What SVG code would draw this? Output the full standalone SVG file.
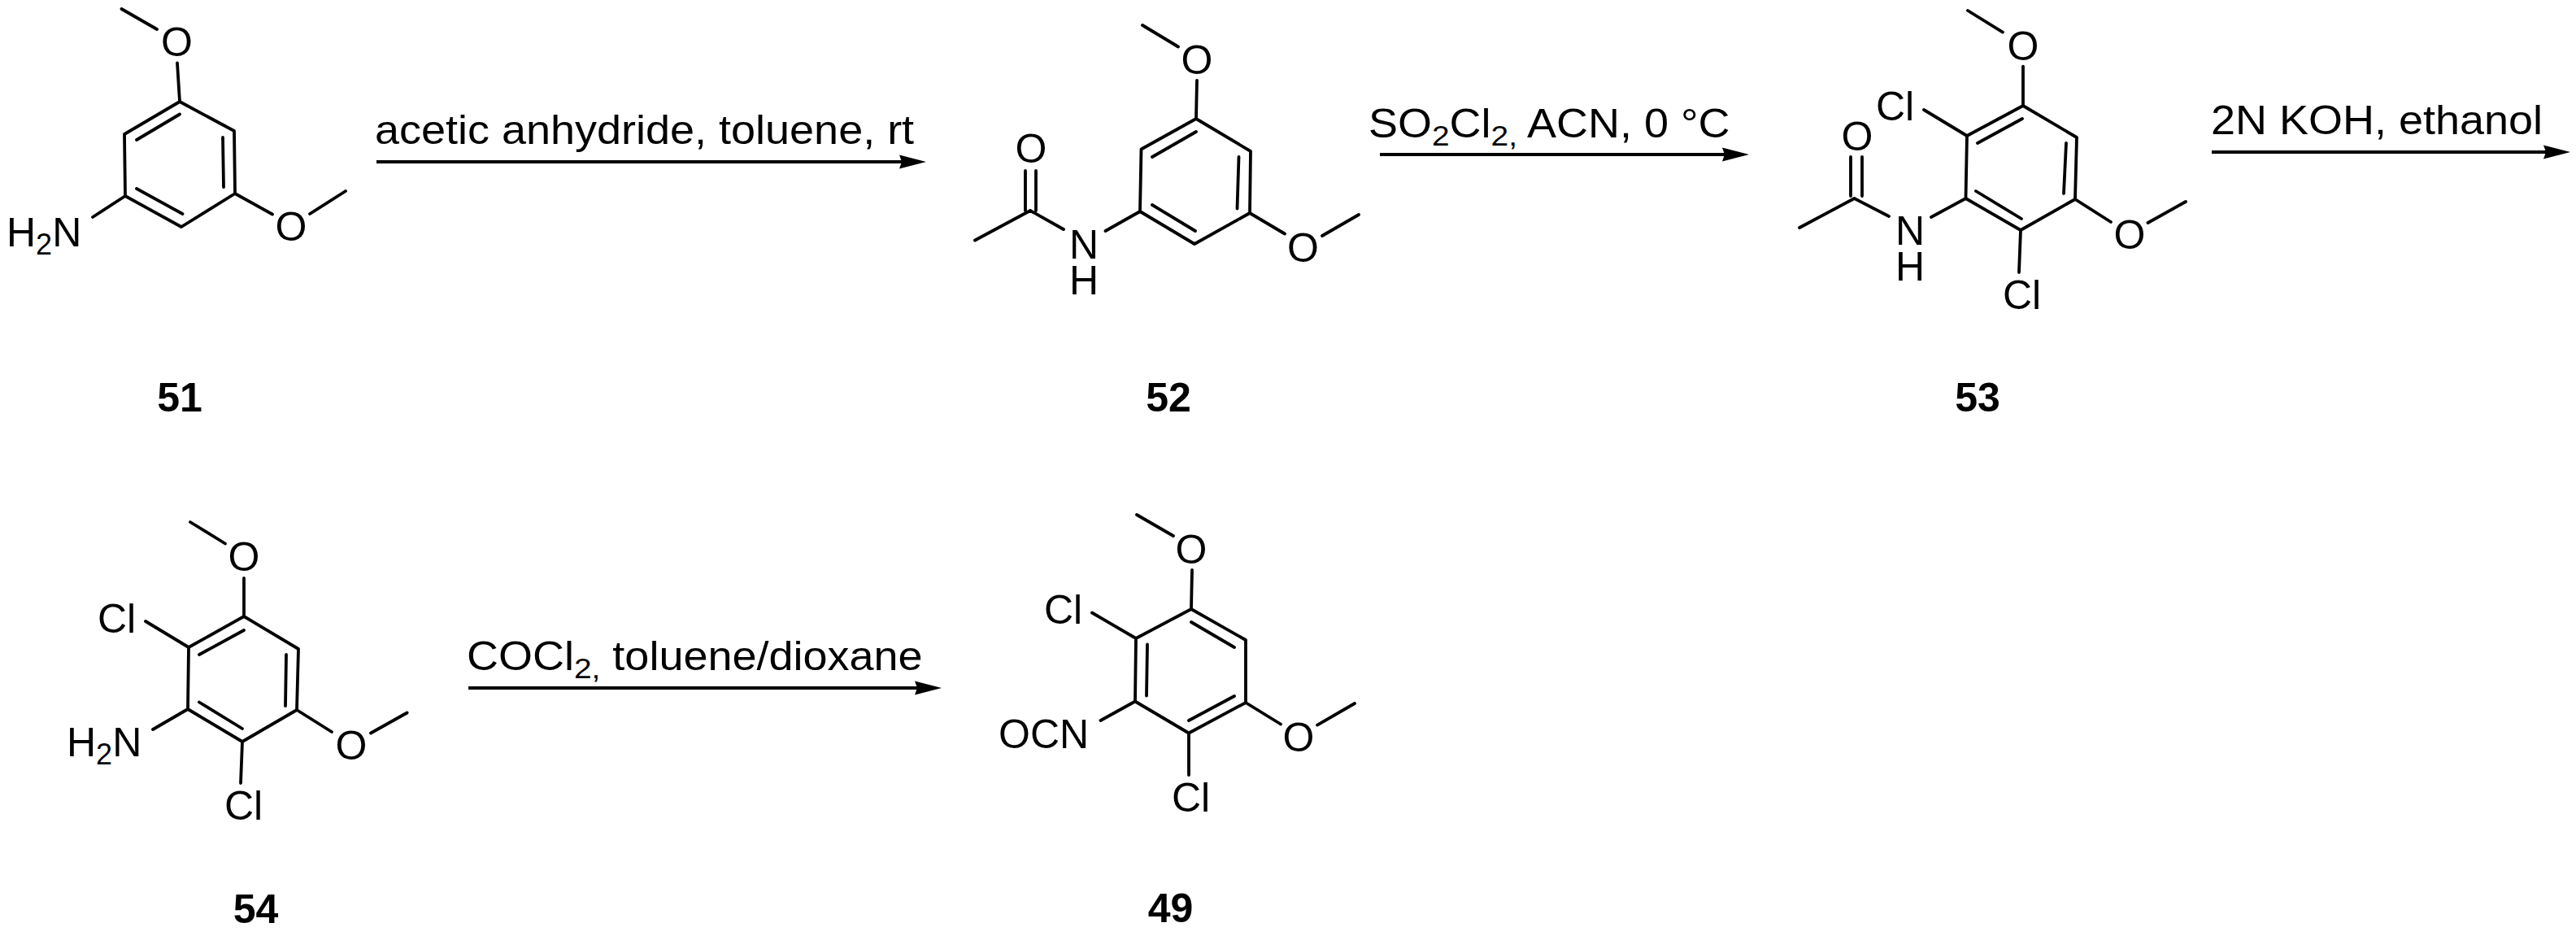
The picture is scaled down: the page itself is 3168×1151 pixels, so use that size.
<svg xmlns="http://www.w3.org/2000/svg" width="3168" height="1151" viewBox="0 0 3168 1151">
<style>
text{font-family:"Liberation Sans",Arial,sans-serif;font-size:50px;fill:#000}
.m{text-anchor:middle}
.c{font-weight:bold;text-anchor:middle}
.s{font-size:36px}
.b{fill:none;stroke:#000;stroke-width:3.8;stroke-linecap:round;stroke-linejoin:round}
.r{fill:none;stroke:#000;stroke-width:4.2;marker-end:url(#ah)}
</style>
<defs>
<marker id="ah" markerUnits="userSpaceOnUse" markerWidth="34" markerHeight="20" refX="3" refY="10" orient="auto" overflow="visible">
<path d="M0 1.4L33 10L0 18.6L3 10Z" fill="#000"/>
</marker>
</defs>
<rect width="3168" height="1151" fill="#fff"/>
<g id="connectors">
<line class="r" x1="463" y1="199" x2="1109" y2="199"/>
<line class="r" x1="1697" y1="190" x2="2121" y2="190"/>
<line class="r" x1="2720" y1="187" x2="3131" y2="187"/>
<line class="r" x1="576" y1="846" x2="1128" y2="846"/>
</g>
<g id="reagents">
<text transform="translate(461 177) scale(1.08 1)">acetic anhydride, toluene, rt</text>
<text transform="translate(1683 169) scale(1.08 1)">SO<tspan class="s" dy="10">2</tspan><tspan dy="-10">Cl</tspan><tspan class="s" dy="10">2,</tspan><tspan dy="-10"> ACN, 0 °C</tspan></text>
<text transform="translate(2719 165) scale(1.08 1)">2N KOH, ethanol</text>
<text transform="translate(574 824) scale(1.08 1)">COCl<tspan class="s" dy="10">2,</tspan><tspan dy="-10"> toluene/dioxane</tspan></text>
</g>
<g id="compound-51">
<path class="b" d="M221 125L288 161L289 238L223 279L154 241L153 165ZM168 172L221 140.5M274 169L275 230M168 232L224.5 263M218 77.5L221 125M149.5 11L193 36M289 238L335 263.5M381 263L425 235M154 241L114 267"/>
<text class="m" x="217.5" y="69">O</text>
<text class="m" x="358" y="296">O</text>
<text x="8" y="303">H<tspan class="s" dy="10">2</tspan><tspan dy="-10">N</tspan></text>
<text class="c" x="221" y="506">51</text>
</g>
<g id="compound-52">
<path class="b" d="M1471 146L1538 186L1537 262L1469 300L1402 260L1403.5 183.5ZM1417 193L1471 162M1523.5 193L1521.5 256.5M1417 252L1470 284M1472 99L1471 146M1405 31L1449 57.5M1537 262L1580 287.5M1626 290L1671 264M1402 260L1359.5 284M1267 259L1308 282M1199 295.5L1267 259M1261 210V259M1274 210V259"/>
<text class="m" x="1472" y="91">O</text>
<text class="m" x="1602.5" y="322">O</text>
<text class="m" x="1268" y="200">O</text>
<text class="m" x="1333" y="318">N</text>
<text class="m" x="1333" y="361.5">H</text>
<text class="c" x="1437" y="506">52</text>
</g>
<g id="compound-53">
<path class="b" d="M2488 130L2554 169L2552 245L2485 283L2417.5 244L2419 167ZM2432 176L2487 146M2541 176L2538 238M2430 235L2486 269M2488 81.6V130M2420 13L2463 39.6M2366 135L2419 167M2485 283L2483 335M2552 245L2596 273M2641.5 274L2688 248M2417.5 244L2375 267M2280.5 244L2323 266M2213 280L2280.5 244M2276 193V241M2290 193V241"/>
<text class="m" x="2488" y="74">O</text>
<text class="m" x="2619" y="306">O</text>
<text class="m" x="2284" y="185">O</text>
<text x="2307" y="148">Cl</text>
<text x="2463" y="380">Cl</text>
<text class="m" x="2349" y="301">N</text>
<text class="m" x="2349" y="345">H</text>
<text class="c" x="2432" y="506">53</text>
</g>
<g id="compound-54">
<path class="b" d="M300 758L367 798L365 873L298 912L231 872L232 796ZM245 805L300 775M352 805L351 868M245 863.5L298 896M300 711V758M234 642L277 668.5M179 764L232 796M298 912L296 963M231 872L188 897M365 873L408 900M456 901.5L500.6 876.5"/>
<text class="m" x="300" y="702">O</text>
<text class="m" x="432" y="934">O</text>
<text x="120" y="777.5">Cl</text>
<text x="276" y="1008">Cl</text>
<text x="82" y="930">H<tspan class="s" dy="10">2</tspan><tspan dy="-10">N</tspan></text>
<text class="c" x="314.5" y="1135">54</text>
</g>
<g id="compound-49">
<path class="b" d="M1465 749L1532 787L1532 864L1462 901.5L1396 862.5L1397 785ZM1465 765L1518 796M1411 792.5L1410 855.5M1462 886L1518 856M1466 701L1465 749M1398 633L1443 659M1343 753.5L1397 785M1462 901.5V953M1396 862.5L1353.5 886M1532 864L1575 890.5M1620 891.6L1666 865"/>
<text class="m" x="1465" y="692.5">O</text>
<text class="m" x="1597" y="924">O</text>
<text x="1284" y="767">Cl</text>
<text x="1441" y="998">Cl</text>
<text x="1228" y="920">OCN</text>
<text class="c" x="1439.5" y="1134">49</text>
</g>
</svg>
